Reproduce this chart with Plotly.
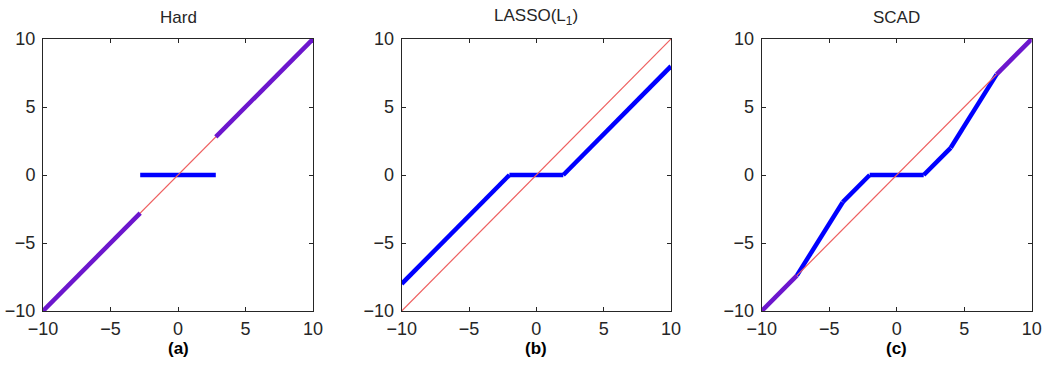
import plotly.graph_objects as go

# ---- data ----
identity_x = [-10, 10]
identity_y = [-10, 10]

hard_x = [-10, -2.8, None, -2.8, 2.8, None, 2.8, 10]
hard_y = [-10, -2.8, None, 0, 0, None, 2.8, 10]

lasso_x = [-10, -2, 2, 10]
lasso_y = [-8, 0, 0, 8]

scad_x = [-10, -7.4, -4, -2, 2, 4, 7.4, 10]
scad_y = [-10, -7.4, -2, 0, 0, 2, 7.4, 10]

titles = ["Hard", "LASSO(L<sub>1</sub>)", "SCAD"]
labels = ["(a)", "(b)", "(c)"]
tick_vals = [-10, -5, 0, 5, 10]
tick_text = ["\u221210", "\u22125", "0", "5", "10"]

W, H = 1047, 366
x_domains = [(43, 313), (401.7, 671), (761.7, 1031.7)]
y_px = (39, 311)

BLUE = "rgb(0,0,255)"
PURPLE = "rgb(108,22,205)"
RED = "rgb(238,95,95)"
FONT = "Liberation Sans, Arial, sans-serif"


def split_segments(xs, ys):
    """Split a polyline into segments on the identity line (purple) and off it (blue)."""
    on_x, on_y, off_x, off_y = [], [], [], []
    for i in range(len(xs) - 1):
        x0, y0, x1, y1 = xs[i], ys[i], xs[i + 1], ys[i + 1]
        if None in (x0, y0, x1, y1):
            continue
        if x0 == y0 and x1 == y1:
            on_x += [x0, x1, None]
            on_y += [y0, y1, None]
        else:
            off_x += [x0, x1, None]
            off_y += [y0, y1, None]
    return on_x, on_y, off_x, off_y


fig = go.Figure()
series = [(hard_x, hard_y), (lasso_x, lasso_y), (scad_x, scad_y)]

for i, (sx, sy) in enumerate(series):
    ax = "" if i == 0 else str(i + 1)
    on_x, on_y, off_x, off_y = split_segments(sx, sy)
    fig.add_trace(go.Scatter(x=off_x, y=off_y, mode="lines",
                             line=dict(color=BLUE, width=4.5),
                             xaxis="x" + ax, yaxis="y" + ax,
                             showlegend=False, hoverinfo="skip"))
    fig.add_trace(go.Scatter(x=identity_x, y=identity_y, mode="lines",
                             line=dict(color=RED, width=1.2),
                             xaxis="x" + ax, yaxis="y" + ax,
                             showlegend=False, hoverinfo="skip"))
    if on_x:
        fig.add_trace(go.Scatter(x=on_x, y=on_y, mode="lines",
                                 line=dict(color=PURPLE, width=4.5),
                                 xaxis="x" + ax, yaxis="y" + ax,
                                 showlegend=False, hoverinfo="skip"))

axis_common = dict(
    range=[-10, 10], showgrid=False, zeroline=False, showline=True,
    linecolor="#262626", linewidth=1, mirror="allticks", ticks="inside",
    ticklen=4, tickcolor="#262626", tickvals=tick_vals, ticktext=tick_text,
    tickfont=dict(family=FONT, size=18, color="#262626"),
    automargin=False, fixedrange=True,
)

layout = dict(
    width=W, height=H, margin=dict(l=0, r=0, t=0, b=0),
    paper_bgcolor="white", plot_bgcolor="white", showlegend=False,
    annotations=[],
)

for i in range(3):
    ax = "" if i == 0 else str(i + 1)
    x0, x1 = x_domains[i]
    xd = [x0 / W, x1 / W]
    yd = [(H - y_px[1]) / H, (H - y_px[0]) / H]
    layout["xaxis" + ax] = dict(axis_common, domain=xd, anchor="y" + ax, ticklabelstandoff=1)
    layout["yaxis" + ax] = dict(axis_common, domain=yd, anchor="x" + ax, ticklabelstandoff=3)
    cx = (x0 + x1) / 2 / W
    layout["annotations"].append(dict(
        text=titles[i], x=cx, y=(H - 17) / H, xref="paper", yref="paper",
        showarrow=False, xanchor="center", yanchor="middle",
        font=dict(family=FONT, size=17, color="#262626")))
    layout["annotations"].append(dict(
        text="<b>" + labels[i] + "</b>", x=cx, y=(H - 348) / H, xref="paper", yref="paper",
        showarrow=False, xanchor="center", yanchor="middle",
        font=dict(family=FONT, size=17, color="black")))

fig.update_layout(**layout)
fig.write_html("out.html", config={"displayModeBar": False},
               post_script="document.body.style.margin='0';document.body.style.overflow='hidden';")
